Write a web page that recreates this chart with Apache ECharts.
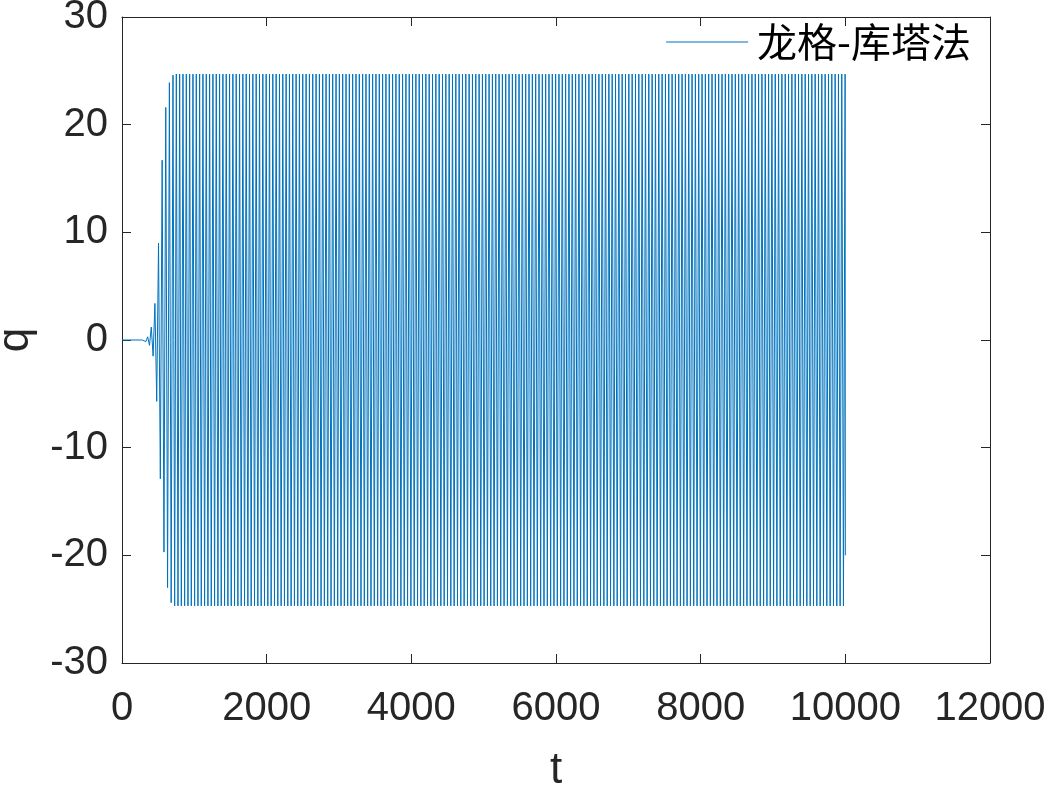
<!DOCTYPE html>
<html>
<head>
<meta charset="utf-8">
<script src="https://cdn.jsdelivr.net/npm/echarts@6/dist/echarts.min.js"></script>
<style>
  html, body { margin: 0; padding: 0; background: #fff; }
  #chart { width: 1052px; height: 786px; }
</style>
</head>
<body>
<div id="chart"></div>
<script>
// 起振阶段的极值点 (t, q)
const growthT = [0, 280, 305, 330, 355, 380, 405, 430, 455, 480, 505, 530, 555, 580, 605, 630, 655, 680, 705]
const growthQ = [0, 0, 0.05, -0.15, 0.3, -0.5, 1.2, -1.5, 3.4, -5.7, 9.0, -12.9, 16.7, -19.7, 21.6, -23.0, 23.9, -24.4, 24.6]

// 稳态阶段的极值点时刻
const steadyT = [
  728, 751, 774, 797, 820, 843, 866, 889, 912, 935,
  958, 981, 1004, 1027, 1050, 1073, 1096, 1119, 1142, 1165,
  1188, 1211, 1234, 1257, 1280, 1303, 1326, 1349, 1372, 1395,
  1418, 1441, 1464, 1487, 1510, 1533, 1556, 1579, 1602, 1625,
  1648, 1671, 1694, 1717, 1740, 1763, 1786, 1809, 1832, 1855,
  1878, 1901, 1924, 1947, 1970, 1993, 2016, 2039, 2062, 2085,
  2108, 2131, 2154, 2177, 2200, 2223, 2246, 2269, 2292, 2315,
  2338, 2361, 2384, 2407, 2430, 2453, 2476, 2499, 2522, 2545,
  2568, 2591, 2614, 2637, 2660, 2683, 2706, 2729, 2752, 2775,
  2798, 2821, 2844, 2867, 2890, 2913, 2936, 2959, 2982, 3005,
  3028, 3051, 3074, 3097, 3120, 3143, 3166, 3189, 3212, 3235,
  3258, 3281, 3304, 3327, 3350, 3373, 3396, 3419, 3442, 3465,
  3488, 3511, 3534, 3557, 3580, 3603, 3626, 3649, 3672, 3695,
  3718, 3741, 3764, 3787, 3810, 3833, 3856, 3879, 3902, 3925,
  3948, 3971, 3994, 4017, 4040, 4063, 4086, 4109, 4132, 4155,
  4178, 4201, 4224, 4247, 4270, 4293, 4316, 4339, 4362, 4385,
  4408, 4431, 4454, 4477, 4500, 4523, 4546, 4569, 4592, 4615,
  4638, 4661, 4684, 4707, 4730, 4753, 4776, 4799, 4822, 4845,
  4868, 4891, 4914, 4937, 4960, 4983, 5006, 5029, 5052, 5075,
  5098, 5121, 5144, 5167, 5190, 5213, 5236, 5259, 5282, 5305,
  5328, 5351, 5374, 5397, 5420, 5443, 5466, 5489, 5512, 5535,
  5558, 5581, 5604, 5627, 5650, 5673, 5696, 5719, 5742, 5765,
  5788, 5811, 5834, 5857, 5880, 5903, 5926, 5949, 5972, 5995,
  6018, 6041, 6064, 6087, 6110, 6133, 6156, 6179, 6202, 6225,
  6248, 6271, 6294, 6317, 6340, 6363, 6386, 6409, 6432, 6455,
  6478, 6501, 6524, 6547, 6570, 6593, 6616, 6639, 6662, 6685,
  6708, 6731, 6754, 6777, 6800, 6823, 6846, 6869, 6892, 6915,
  6938, 6961, 6984, 7007, 7030, 7053, 7076, 7099, 7122, 7145,
  7168, 7191, 7214, 7237, 7260, 7283, 7306, 7329, 7352, 7375,
  7398, 7421, 7444, 7467, 7490, 7513, 7536, 7559, 7582, 7605,
  7628, 7651, 7674, 7697, 7720, 7743, 7766, 7789, 7812, 7835,
  7858, 7881, 7904, 7927, 7950, 7973, 7996, 8019, 8042, 8065,
  8088, 8111, 8134, 8157, 8180, 8203, 8226, 8249, 8272, 8295,
  8318, 8341, 8364, 8387, 8410, 8433, 8456, 8479, 8502, 8525,
  8548, 8571, 8594, 8617, 8640, 8663, 8686, 8709, 8732, 8755,
  8778, 8801, 8824, 8847, 8870, 8893, 8916, 8939, 8962, 8985,
  9008, 9031, 9054, 9077, 9100, 9123, 9146, 9169, 9192, 9215,
  9238, 9261, 9284, 9307, 9330, 9353, 9376, 9399, 9422, 9445,
  9468, 9491, 9514, 9537, 9560, 9583, 9606, 9629, 9652, 9675,
  9698, 9721, 9744, 9767, 9790, 9813, 9836, 9859, 9882, 9905,
  9928, 9951, 9974, 9997
]
// 稳态阶段的极值
const steadyQ = [
  -24.7, 24.7, -24.7, 24.7, -24.7, 24.7, -24.7, 24.7, -24.7, 24.7,
  -24.7, 24.7, -24.7, 24.7, -24.7, 24.7, -24.7, 24.7, -24.7, 24.7,
  -24.7, 24.7, -24.7, 24.7, -24.7, 24.7, -24.7, 24.7, -24.7, 24.7,
  -24.7, 24.7, -24.7, 24.7, -24.7, 24.7, -24.7, 24.7, -24.7, 24.7,
  -24.7, 24.7, -24.7, 24.7, -24.7, 24.7, -24.7, 24.7, -24.7, 24.7,
  -24.7, 24.7, -24.7, 24.7, -24.7, 24.7, -24.7, 24.7, -24.7, 24.7,
  -24.7, 24.7, -24.7, 24.7, -24.7, 24.7, -24.7, 24.7, -24.7, 24.7,
  -24.7, 24.7, -24.7, 24.7, -24.7, 24.7, -24.7, 24.7, -24.7, 24.7,
  -24.7, 24.7, -24.7, 24.7, -24.7, 24.7, -24.7, 24.7, -24.7, 24.7,
  -24.7, 24.7, -24.7, 24.7, -24.7, 24.7, -24.7, 24.7, -24.7, 24.7,
  -24.7, 24.7, -24.7, 24.7, -24.7, 24.7, -24.7, 24.7, -24.7, 24.7,
  -24.7, 24.7, -24.7, 24.7, -24.7, 24.7, -24.7, 24.7, -24.7, 24.7,
  -24.7, 24.7, -24.7, 24.7, -24.7, 24.7, -24.7, 24.7, -24.7, 24.7,
  -24.7, 24.7, -24.7, 24.7, -24.7, 24.7, -24.7, 24.7, -24.7, 24.7,
  -24.7, 24.7, -24.7, 24.7, -24.7, 24.7, -24.7, 24.7, -24.7, 24.7,
  -24.7, 24.7, -24.7, 24.7, -24.7, 24.7, -24.7, 24.7, -24.7, 24.7,
  -24.7, 24.7, -24.7, 24.7, -24.7, 24.7, -24.7, 24.7, -24.7, 24.7,
  -24.7, 24.7, -24.7, 24.7, -24.7, 24.7, -24.7, 24.7, -24.7, 24.7,
  -24.7, 24.7, -24.7, 24.7, -24.7, 24.7, -24.7, 24.7, -24.7, 24.7,
  -24.7, 24.7, -24.7, 24.7, -24.7, 24.7, -24.7, 24.7, -24.7, 24.7,
  -24.7, 24.7, -24.7, 24.7, -24.7, 24.7, -24.7, 24.7, -24.7, 24.7,
  -24.7, 24.7, -24.7, 24.7, -24.7, 24.7, -24.7, 24.7, -24.7, 24.7,
  -24.7, 24.7, -24.7, 24.7, -24.7, 24.7, -24.7, 24.7, -24.7, 24.7,
  -24.7, 24.7, -24.7, 24.7, -24.7, 24.7, -24.7, 24.7, -24.7, 24.7,
  -24.7, 24.7, -24.7, 24.7, -24.7, 24.7, -24.7, 24.7, -24.7, 24.7,
  -24.7, 24.7, -24.7, 24.7, -24.7, 24.7, -24.7, 24.7, -24.7, 24.7,
  -24.7, 24.7, -24.7, 24.7, -24.7, 24.7, -24.7, 24.7, -24.7, 24.7,
  -24.7, 24.7, -24.7, 24.7, -24.7, 24.7, -24.7, 24.7, -24.7, 24.7,
  -24.7, 24.7, -24.7, 24.7, -24.7, 24.7, -24.7, 24.7, -24.7, 24.7,
  -24.7, 24.7, -24.7, 24.7, -24.7, 24.7, -24.7, 24.7, -24.7, 24.7,
  -24.7, 24.7, -24.7, 24.7, -24.7, 24.7, -24.7, 24.7, -24.7, 24.7,
  -24.7, 24.7, -24.7, 24.7, -24.7, 24.7, -24.7, 24.7, -24.7, 24.7,
  -24.7, 24.7, -24.7, 24.7, -24.7, 24.7, -24.7, 24.7, -24.7, 24.7,
  -24.7, 24.7, -24.7, 24.7, -24.7, 24.7, -24.7, 24.7, -24.7, 24.7,
  -24.7, 24.7, -24.7, 24.7, -24.7, 24.7, -24.7, 24.7, -24.7, 24.7,
  -24.7, 24.7, -24.7, 24.7, -24.7, 24.7, -24.7, 24.7, -24.7, 24.7,
  -24.7, 24.7, -24.7, 24.7, -24.7, 24.7, -24.7, 24.7, -24.7, 24.7,
  -24.7, 24.7, -24.7, 24.7, -24.7, 24.7, -24.7, 24.7, -24.7, 24.7,
  -24.7, 24.7, -24.7, 24.7, -24.7, 24.7, -24.7, 24.7, -24.7, 24.7,
  -24.7, 24.7, -24.7, 24.7, -24.7, 24.7, -24.7, 24.7, -24.7, 24.7,
  -24.7, 24.7, -24.7, 24.7
]

// 末点 t = 10000
const endT = [10000]
const endQ = [-20]

const xTicks = [0, 2000, 4000, 6000, 8000, 10000, 12000]
const yTicks = [-30, -20, -10, 0, 10, 20, 30]

const allT = growthT.concat(steadyT, endT)
const allQ = growthQ.concat(steadyQ, endQ)
const seriesData = allT.map((t, i) => [t, allQ[i]])

const axisColor = '#262626'
const numFont = '"Liberation Sans", Arial, Helvetica, sans-serif'

const baseX = {
  type: 'value',
  min: xTicks[0],
  max: xTicks[xTicks.length - 1],
  interval: 2000,
  splitLine: {show: false},
  axisLine: {show: true, onZero: false, lineStyle: {color: axisColor, width: 1}},
  axisTick: {show: true, inside: true, length: 9, lineStyle: {color: axisColor}}
}
const baseY = {
  type: 'value',
  min: yTicks[0],
  max: yTicks[yTicks.length - 1],
  interval: 10,
  splitLine: {show: false},
  axisLine: {show: true, onZero: false, lineStyle: {color: axisColor, width: 1}},
  axisTick: {show: true, inside: true, length: 9, lineStyle: {color: axisColor}}
}

const chart = echarts.init(document.getElementById('chart'))
chart.setOption({
  animation: false,
  backgroundColor: '#fff',
  grid: {left: 122, right: 62, top: 17, bottom: 123, containLabel: false, outerBoundsMode: 'none'},
  legend: {
    right: 76,
    top: 17,
    itemWidth: 82,
    itemHeight: 14,
    itemGap: 0,
    icon: 'path://M0 0H82V1H0Z',
    textStyle: {
      fontFamily: '"Noto Sans CJK SC", sans-serif',
      fontSize: 40,
      color: '#000',
      padding: [0, 0, 0, 4]
    },
    data: [{name: '龙格-库塔法', itemStyle: {color: '#0072BD'}}]
  },
  xAxis: [
    Object.assign({}, baseX, {
      position: 'bottom',
      name: 't',
      nameLocation: 'middle',
      nameGap: 86,
      nameTextStyle: {fontFamily: numFont, fontSize: 44, color: axisColor},
      axisLabel: {margin: 26, fontFamily: numFont, fontSize: 40, color: axisColor, formatter: v => String(v)}
    }),
    Object.assign({}, baseX, {position: 'top', axisLabel: {show: false}})
  ],
  yAxis: [
    Object.assign({}, baseY, {
      position: 'left',
      name: 'q',
      nameLocation: 'middle',
      nameGap: 84,
      nameTextStyle: {fontFamily: numFont, fontSize: 44, color: axisColor},
      axisLabel: {margin: 14, fontFamily: numFont, fontSize: 40, color: axisColor, formatter: v => String(v)}
    }),
    Object.assign({}, baseY, {position: 'right', axisLabel: {show: false}})
  ],
  series: [{
    name: '龙格-库塔法',
    type: 'line',
    xAxisIndex: 0,
    yAxisIndex: 0,
    data: seriesData,
    showSymbol: false,
    symbol: 'none',
    sampling: false,
    lineStyle: {color: '#0072BD', width: 1},
    itemStyle: {color: '#0072BD'}
  }]
})
</script>
</body>
</html>
